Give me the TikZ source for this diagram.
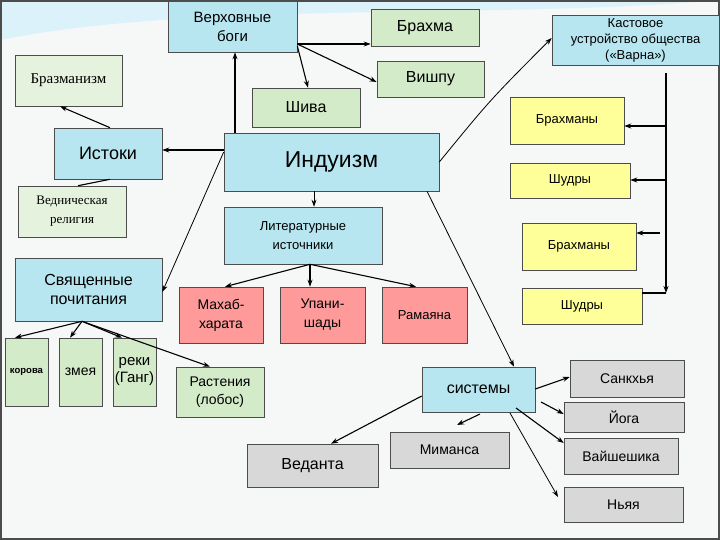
\documentclass[tikz,border=0pt]{standalone}
\usepackage{fontspec}
\setmainfont{Liberation Sans}
\newfontfamily\serf{Liberation Serif}
\usetikzlibrary{arrows.meta}
\definecolor{cy}{HTML}{B8E6F0}
\definecolor{gr}{HTML}{D3EBC8}
\definecolor{ye}{HTML}{FFFF99}
\definecolor{rd}{HTML}{FF9A9A}
\definecolor{gy}{HTML}{D8D8D8}
\definecolor{bg}{HTML}{F6F7F7}
\newcommand{\fs}[2]{\fontsize{#1}{#2}\selectfont}
\newcommand{\bx}[8]{\node[box,fill=#6,font=#8,minimum width={(#4-#2)*1pt},minimum height={(#5-#3)*1pt}] (#1) at ({(#2+#4)/2},{(#3+#5)/2}) {#7};}
\tikzset{box/.style={draw=black!70,line width=0.6pt,inner sep=1pt,align=center},
ar/.style={-{Stealth[length=7pt,width=5pt]},line width=1.1pt}}
\begin{document}
\begin{tikzpicture}[x=1pt,y=-1pt]
\useasboundingbox (0,0) rectangle (720,540);
\fill[bg] (0,0) rectangle (720,540);
\fill[cyan!20!white,opacity=0.6] (0,40) .. controls (200,0) and (500,20) .. (720,0) -- (0,0) -- cycle;
\draw[black!70,line width=1.5pt] (1,1) rectangle (719,539);
\bx{verh}{168}{1}{297}{52}{cy}{Верховные\\боги}{\fs{15}{19}}
\bx{brahma}{371}{9}{479}{46}{gr}{Брахма}{\fs{16}{18}}
\bx{kast}{552}{15}{719}{65}{cy}{Кастовое\\устройство общества\\(«Варна»)}{\fs{13}{16}}
\bx{brazm}{15}{55}{122}{106}{gr!60!white}{Бразманизм}{\serf\fs{15}{17}}
\bx{vish}{377}{61}{484}{97}{gr}{Вишпу}{\fs{16}{18}}
\bx{shiva}{252}{88}{360}{127}{gr}{Шива}{\fs{16}{18}}
\bx{br1}{510}{97}{624}{144}{ye}{Брахманы}{\fs{13}{15}}
\bx{ist}{54}{128}{162}{179}{cy}{Истоки}{\fs{18}{20}}
\bx{ind}{224}{133}{439}{191}{cy}{Индуизм}{\fs{23}{26}}
\bx{sh1}{510}{163}{630}{198}{ye}{Шудры}{\fs{13}{15}}
\bx{ved}{18}{186}{126}{237}{gr!60!white}{Ведническая\\религия}{\serf\fs{13}{19}}
\bx{lit}{224}{207}{382}{264}{cy}{Литературные\\источники}{\fs{13}{19}}
\bx{br2}{522}{223}{636}{270}{ye}{Брахманы}{\fs{13}{15}}
\bx{svyas}{15}{258}{162}{321}{cy}{Священные\\почитания}{\fs{16}{19}}
\bx{sh2}{522}{288}{642}{324}{ye}{Шудры}{\fs{13}{15}}
\bx{mah}{179}{287}{263}{343}{rd}{Махаб-\\харата}{\fs{14}{19}}
\bx{upa}{280}{287}{365}{343}{rd}{Упани-\\шады}{\fs{14}{19}}
\bx{ram}{382}{287}{467}{343}{rd}{Рамаяна}{\fs{13}{15}}
\bx{kor}{5}{338}{48}{406}{gr}{корова}{\fs{9.5}{11}\bfseries}
\bx{zme}{59}{338}{102}{406}{gr}{змея}{\fs{14}{16}}
\bx{rek}{113}{338}{156}{406}{gr}{реки\\(Ганг)}{\fs{15}{17}}
\bx{rast}{176}{367}{264}{417}{gr}{Растения\\(лобос)}{\fs{14}{18}}
\bx{sist}{422}{367}{535}{412}{cy}{системы}{\fs{16}{18}}
\bx{sank}{570}{360}{684}{397}{gy}{Санкхья}{\fs{14}{16}}
\bx{yoga}{564}{402}{684}{432}{gy}{Йога}{\fs{14}{16}}
\bx{vai}{564}{438}{678}{474}{gy}{Вайшешика}{\fs{14}{16}}
\bx{nya}{564}{487}{683}{522}{gy}{Ньяя}{\fs{14}{16}}
\bx{mim}{390}{432}{509}{468}{gy}{Миманса}{\fs{14}{16}}
\bx{veda}{247}{444}{378}{487}{gy}{Веданта}{\fs{16}{18}}
% connectors
\draw[ar] (ind.north -| 235,0) -- (verh.south -| 235,0);
\draw[ar] (verh.east |- 0,44) -- (brahma.west |- 0,44);
\draw[ar] (verh.east |- 0,44) -- (vish.west |- 0,82);
\draw[ar] (verh.east |- 0,46) -- (shiva.north -| 308,0);
\draw[ar] (ind.west |- 0,150) -- (ist.east |- 0,150);
\draw[ar] (ist.north -| 110,0) -- (brazm.south -| 60,0);
\draw[line width=1.1pt] (ved.north -| 78,0) -- (ist.south -| 110,0);
\draw[ar,line width=0.8pt] (ind.west |- 0,152) -- (svyas.east |- 0,292);
\draw[ar,line width=0.8pt] (ind.east |- 0,162) .. controls (490,100) .. (kast.west |- 0,38);
\draw[ar,line width=0.8pt] (ind.south -| 314,0) -- (lit.north -| 314,0);
\draw[ar,line width=0.8pt] (ind.south -| 427,0) -- (sist.north -| 514,0);
\draw[ar] (lit.south -| 310,0) -- (mah.north -| 225,0);
\draw[ar] (lit.south -| 310,0) -- (upa.north -| 310,0);
\draw[ar] (lit.south -| 310,0) -- (ram.north -| 416,0);
\draw[ar] (svyas.south -| 82,0) -- (kor.north -| 15,0);
\draw[ar] (svyas.south -| 82,0) -- (zme.north -| 70,0);
\draw[ar] (svyas.south -| 82,0) -- (rek.north -| 122,0);
\draw[ar] (svyas.south -| 82,0) -- (rast.north -| 210,0);
\coordinate (vt) at (666,73);
\coordinate (vb) at (666,293);
\draw[ar,line width=1.6pt] (vt) -- (vb);
\draw[line width=1.6pt] (sh2.east |- vb) -- (vb);
\draw[ar,line width=1.6pt] (666,126) -- (br1.east |- 0,126);
\draw[ar,line width=1.6pt] (666,180) -- (sh1.east |- 0,180);
\coordinate (b2s) at (660,233);
\draw[ar,line width=1.6pt] (b2s) -- (br2.east |- b2s);
\draw[ar] (sist.east |- 0,389) -- (sank.west |- 0,377);
\draw[ar] (541,402) -- (yoga.west |- 0,414);
\draw[ar] (516,408) -- (vai.west |- 0,443);
\draw[ar,line width=0.8pt] (510,413) -- (558,497);
\coordinate (ms) at (480,414);
\draw[ar] (ms) -- (457,425);
\draw[ar] (sist.west |- 0,396) -- (veda.north -| 331,0);
\end{tikzpicture}
\end{document}
